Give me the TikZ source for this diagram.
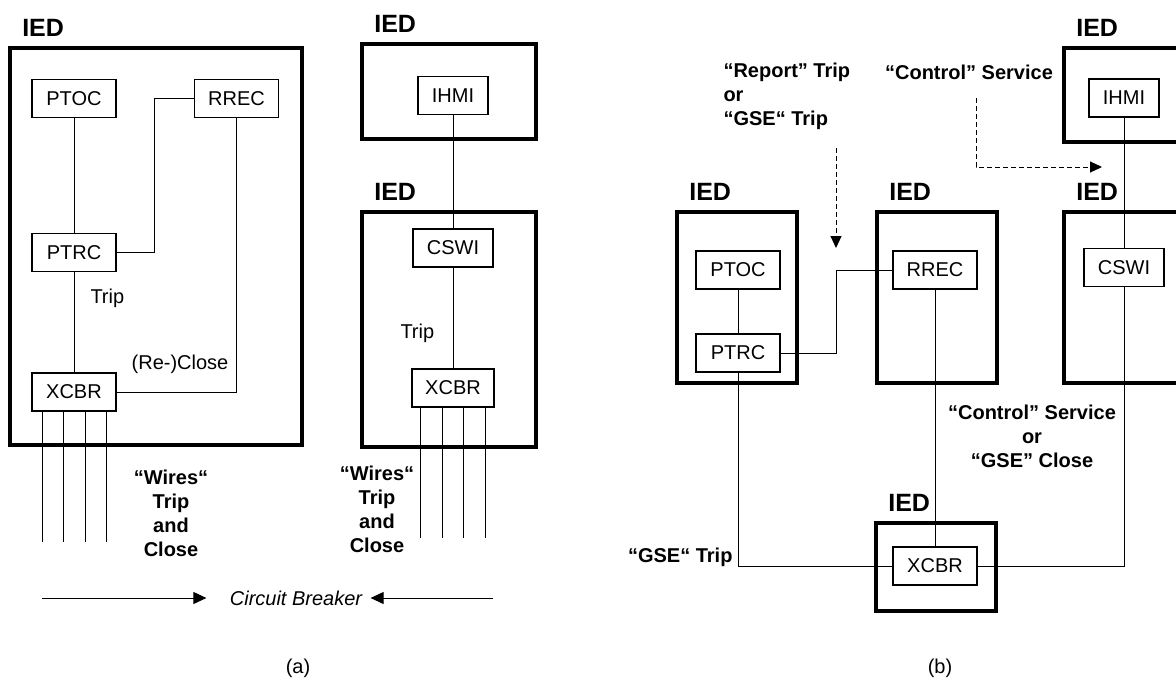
\documentclass[tikz,border=0pt]{standalone}
\usepackage{fontspec}
\setmainfont{Liberation Sans}
\usetikzlibrary{arrows.meta,positioning,fit}

\begin{document}
\begin{tikzpicture}[x=0.5pt, y=-0.5pt, font=\fontsize{10}{12}\selectfont, line width=0.5pt,
  box/.style={draw, line width=0.6pt, minimum width=42pt, minimum height=19pt, inner sep=0pt},
  ied/.style={draw, line width=2.2pt, inner sep=0pt},
  iedlbl/.style={font=\fontsize{12.5}{15}\selectfont\bfseries, inner sep=0pt},
  lbl/.style={font=\fontsize{10}{12}\selectfont\bfseries, align=center, inner sep=0pt},
  arr/.style={-{Triangle[length=6.5pt,width=6pt]}},
  dasharr/.style={dash pattern=on 2.5pt off 1.5pt, -{Triangle[length=6pt,width=5.5pt]}}
]
\useasboundingbox (0,0) rectangle (1176,681);
\clip (0,0) rectangle (1176,681);

% (a) protection IED
\node[ied, fit={(10,48) (302,445)}] (iedA) {};
\node[iedlbl, above right=4.5pt and 7pt of iedA.north west] (iedAlbl) {IED};
\node[box] (ptocA) at (74,98.5) {PTOC};
\node[box] (rrecA) at (236.5,98.5) {RREC};
\node[box] (ptrcA) at (74,252.5) {PTRC};
\node[box] (xcbrA) at (74,392) {XCBR};
\draw (ptocA) -- (ptrcA);
\draw (ptrcA.east) -- ++(38,0) |- (rrecA.west);
\draw (ptrcA) -- (xcbrA);
\draw (rrecA.south) |- (xcbrA.east);
\node[anchor=west, inner sep=0pt] (tripA) at (90,298) {Trip};
\node[inner sep=0pt] (recloseA) at (180,364) {(Re-)Close};
\foreach \dx in {-32,-11,11,32}
  \draw ([shift={(\dx,0)}]xcbrA.south) -- ++(0,130);
\node[lbl] (wiresA) at (171,513) {“Wires“\\Trip\\and\\Close};

% (a) HMI and bay controller
\node[ied, fit={(362,44) (536,139)}] (iedB) {};
\node[iedlbl, above right=4.5pt and 7pt of iedB.north west] (iedBlbl) {IED};
\node[box, minimum width=35pt] (ihmiA) at (453,95.5) {IHMI};
\node[ied, fit={(362,212) (536,447)}] (iedC) {};
\node[iedlbl, above right=4.5pt and 7pt of iedC.north west] (iedClbl) {IED};
\node[box, minimum width=40pt] (cswiA) at (453,248) {CSWI};
\node[box, minimum width=41pt] (xcbrB) at (453,388) {XCBR};
\draw (ihmiA) -- (cswiA);
\draw (cswiA) -- (xcbrB);
\node[anchor=west, inner sep=0pt] (tripB) at (400,333) {Trip};
\foreach \dx in {-33,-11,10,32}
  \draw ([shift={(\dx,0)}]xcbrB.south) -- ++(0,130);
\node[lbl] (wiresB) at (377,509) {“Wires“\\Trip\\and\\Close};

% circuit breaker arrows
\node[inner sep=0pt, font=\fontsize{10}{12}\selectfont\itshape] (cb) at (296,598) {Circuit Breaker};
\coordinate (cbL) at (42,598);
\coordinate (cbR) at (493,598);
\draw[arr] (cbL) -- ([xshift=-11.5pt]cb.west);
\draw[arr] (cbR) -- ([xshift=4pt]cb.east);
\node (capA) at (298,668) {(a)};

% (b) distributed functions
\node[ied, fit={(677,212) (797,383)}] (iedD) {};
\node[iedlbl, above right=4.5pt and 7pt of iedD.north west] (iedDlbl) {IED};
\node[box] (ptocB) at (738,270) {PTOC};
\node[box] (ptrcB) at (738,353) {PTRC};
\node[ied, fit={(877,212) (997,383)}] (iedE) {};
\node[iedlbl, above right=4.5pt and 7pt of iedE.north west] (iedElbl) {IED};
\node[box] (rrecB) at (935,270) {RREC};
\node[ied, fit={(1064,48) (1200,142)}] (iedF) {};
\node[iedlbl, above right=4.5pt and 7pt of iedF.north west] (iedFlbl) {IED};
\node[box, minimum width=35pt] (ihmiB) at (1124,98) {IHMI};
\node[ied, fit={(1064,212) (1200,383)}] (iedG) {};
\node[iedlbl, above right=4.5pt and 7pt of iedG.north west] (iedGlbl) {IED};
\node[box, minimum width=40pt] (cswiB) at (1124,267.5) {CSWI};
\node[ied, fit={(876,523) (996,611)}] (iedH) {};
\node[iedlbl, above right=4.5pt and 7pt of iedH.north west] (iedHlbl) {IED};
\node[box] (xcbrC) at (935,566) {XCBR};
\draw (ptocB) -- (ptrcB);
\draw (ptrcB.east) -- ++(56,0) |- (rrecB.west);
\draw (rrecB) -- (xcbrC);
\draw (ihmiB) -- (cswiB);
\draw (cswiB.south) |- (xcbrC.east);
\draw (ptrcB.south) |- (xcbrC.west);

\node[lbl, align=left, anchor=west] (reportB) at (723,96) {“Report” Trip\\or\\“GSE“ Trip};
\coordinate (rpS) at (836,148);
\coordinate (rpE) at (836,248);
\draw[dasharr] (rpS) -- (rpE);
\node[lbl] (ctrlB) at (969,72) {“Control” Service};
\coordinate (ctS) at (976,98);
\coordinate (ctE) at (1102,167);
\draw[dasharr] (ctS) |- (ctE);
\node[lbl] (closeB) at (1032,436) {“Control” Service\\or\\“GSE” Close};
\node[lbl, anchor=east] (gseB) at (733,557) {“GSE“ Trip};
\node (capB) at (940,668) {(b)};
\end{tikzpicture}
\end{document}
